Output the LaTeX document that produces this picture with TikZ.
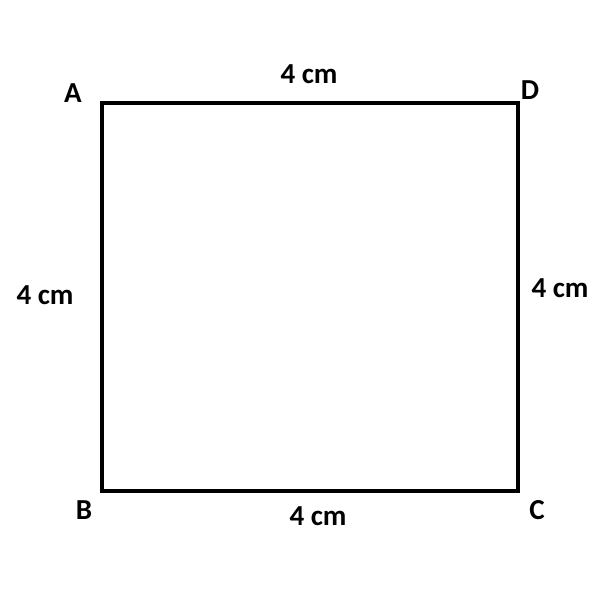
\documentclass[tikz,border=0pt]{standalone}
\usepackage{fontspec}
\setmainfont{Carlito}
\begin{document}
\begin{tikzpicture}[x=0.02cm,y=-0.02cm,
  lbl/.style={font=\fontsize{16.5}{19}\selectfont\bfseries, inner sep=0pt},
  side/.style={line width=2pt, line join=miter}]
\useasboundingbox[fill=white] (0,0) rectangle (600,600);
\coordinate (A) at (102,103);
\coordinate (D) at (518,103);
\coordinate (C) at (518,491);
\coordinate (B) at (102,491);
\draw[side] (A) -- (D) -- (C) -- (B) -- cycle;
\node[lbl] (lA) at (73,93) {A};
\node[lbl] (lD) at (530,90) {D};
\node[lbl] (lB) at (84,510) {B};
\node[lbl] (lC) at (537,510) {C};
\node[lbl] (top) at (309,74) {4 cm};
\node[lbl] (left) at (45,295) {4 cm};
\node[lbl] (right) at (560,288) {4 cm};
\node[lbl] (bottom) at (318,516) {4 cm};
\end{tikzpicture}
\end{document}
